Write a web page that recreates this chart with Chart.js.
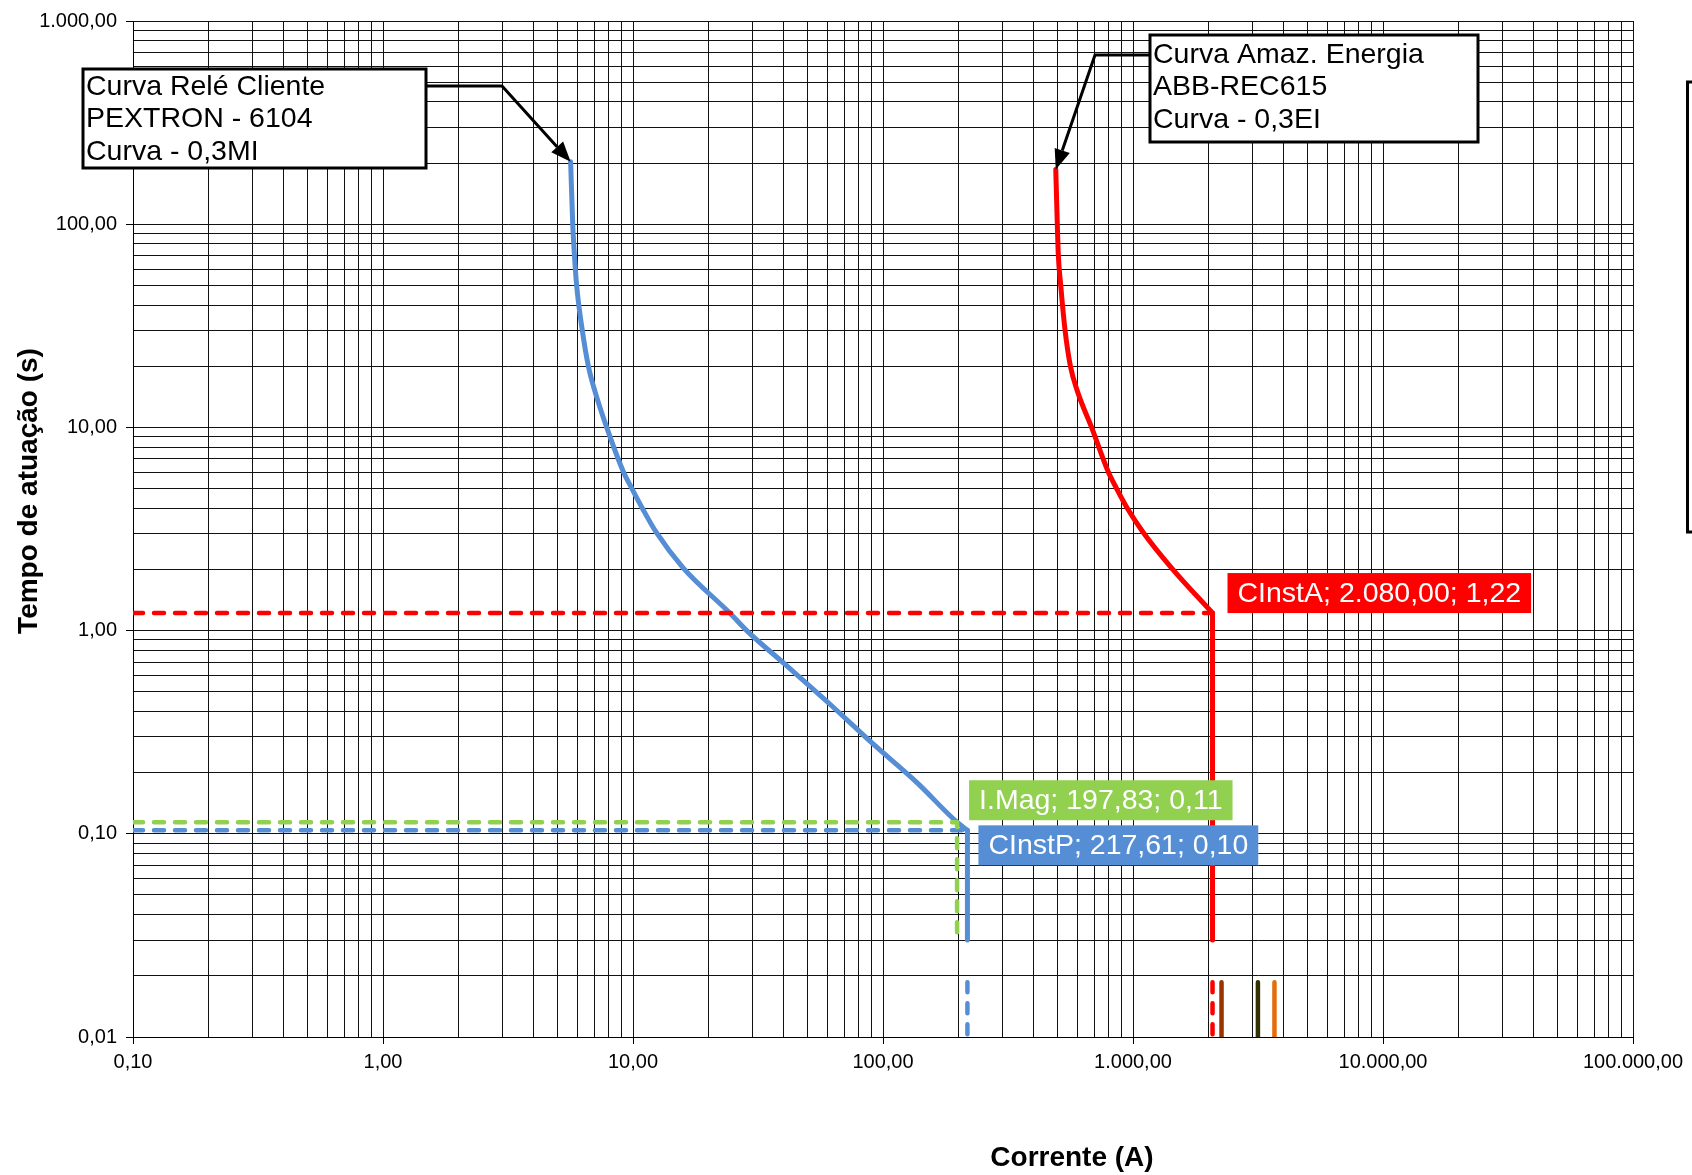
<!DOCTYPE html>
<html lang="pt-BR">
<head>
<meta charset="UTF-8">
<title>Coordenograma</title>
<script src="https://cdn.jsdelivr.net/npm/chart.js"></script>
<style>
  html, body { margin: 0; padding: 0; background: #fff; }
  #wrap { width: 1692px; height: 1175px; }
</style>
</head>
<body>
<div id="wrap"><canvas id="chart"></canvas></div>
<script>
// curva do rele do cliente (PEXTRON 6104, 0,3MI)
const relayI = [5.63, 5.74, 5.82, 5.95, 6.27, 6.63, 7.05, 7.85, 9.15, 9.9, 10.9, 12.4, 15.9, 24.4, 28.5, 40.6, 61.4, 91.5, 136.4, 197.83, 217.61];
const relayT = [203, 100, 72.8, 50, 30, 20, 15, 10, 6.05, 5.0, 4.0, 3.04, 2.03, 1.22, 1.0, 0.682, 0.434, 0.276, 0.179, 0.114, 0.104];

// curva da concessionaria (ABB REC615, 0,3EI)
const utilI = [491, 498, 502, 514, 535, 562, 600, 683, 796, 860, 949, 1099, 1428, 2080];
const utilT = [186, 100, 72.8, 50, 30, 20, 15, 10, 6.05, 5.0, 4.0, 3.04, 2.03, 1.22];

// trecho instantaneo vertical ate este tempo
const instEndT = 0.03;

// pontos notaveis
const markNames = ['CInstA', 'I.Mag', 'CInstP'];
const markI = [2080, 197.83, 217.61];
const markT = [1.22, 0.114, 0.104];

// marcas de curto no rodape
const faultI = [217.61, 2080, 2260, 3160, 3680];
const faultTop = 0.0186;
const faultBottom = 0.01;

const xDecades = [0.1, 1, 10, 100, 1000, 10000, 100000];
const xTickLabels = ['0,10', '1,00', '10,00', '100,00', '1.000,00', '10.000,00', '100.000,00'];
const yDecades = [0.01, 0.1, 1, 10, 100, 1000];
const yTickLabels = ['0,01', '0,10', '1,00', '10,00', '100,00', '1.000,00'];

const FONT = '"Liberation Sans", Arial, sans-serif';
Chart.defaults.font.family = FONT;

function fmtBR(v) {
    const parts = v.toFixed(2).split('.');
    return parts[0].replace(/\B(?=(\d{3})+(?!\d))/g, '.') + ',' + parts[1];
}

function logTicks(decades) {
    const out = [];
    for (let d = 0; d < decades.length - 1; d++) {
        for (let m = 1; m < 10; m++) out.push(+(decades[d] * m).toPrecision(6));
    }
    out.push(decades[decades.length - 1]);
    return out;
}

function decadeIndex(decades, v) {
    return decades.findIndex(d => Math.abs(d - v) / d < 1e-6);
}

function pts(xs, ys) {
    return xs.map((x, k) => ({ x: x, y: ys[k] }));
}

function line(xs, ys, color, extra) {
    return Object.assign({
        data: pts(xs, ys),
        borderColor: color,
        borderWidth: 5,
        pointRadius: 0,
        showLine: true,
        fill: false,
        tension: 0,
        borderCapStyle: 'round',
        borderJoinStyle: 'round'
    }, extra || {});
}

const dash = { borderDash: [10, 11], borderWidth: 4.5 };
const smooth = { cubicInterpolationMode: 'monotone', borderWidth: 5 };

const datasets = [
    line([faultI[1], faultI[1]], [faultTop, faultBottom], '#FF0000', dash),
    line([faultI[0], faultI[0]], [faultTop, faultBottom], '#558ED5', dash),
    line([faultI[2], faultI[2]], [faultTop, faultBottom], '#993300', { borderWidth: 4.5 }),
    line([faultI[3], faultI[3]], [faultTop, faultBottom], '#333300', { borderWidth: 4.5 }),
    line([faultI[4], faultI[4]], [faultTop, faultBottom], '#E46C0A', { borderWidth: 4.5 }),
    line([0.1, markI[0]], [markT[0], markT[0]], '#FF0000', dash),
    line([0.1, markI[1], markI[1]], [markT[1], markT[1], instEndT], '#92D050', dash),
    line([0.1, markI[2]], [markT[2], markT[2]], '#558ED5', dash),
    line(relayI, relayT, '#558ED5', smooth),
    line([relayI[relayI.length - 1], relayI[relayI.length - 1]], [relayT[relayT.length - 1], instEndT], '#558ED5'),
    line(utilI, utilT, '#FF0000', smooth),
    line([utilI[utilI.length - 1], utilI[utilI.length - 1]], [utilT[utilT.length - 1], instEndT], '#FF0000')
];

// caixas de texto com seta
const callouts = [
    { x: 83, y: 69, w: 343, h: 99, first: 18, side: 'right', elbowX: 502, elbowY: 86,
      target: [relayI[0], relayT[0]],
      lines: ['Curva Relé Cliente', 'PEXTRON - 6104', 'Curva - 0,3MI'] },
    { x: 1150, y: 35, w: 328, h: 107, first: 20, side: 'left', elbowX: 1095, elbowY: 55,
      target: [utilI[0], utilT[0]],
      lines: ['Curva Amaz. Energia', 'ABB-REC615', 'Curva - 0,3EI'] }
];

// rotulos de dados (deslocamento em px a partir do ponto)
const labelStyle = [
    { bg: '#FF0000', dx: 15, dy: -40 },
    { bg: '#92D050', dx: 12, dy: -42 },
    { bg: '#558ED5', dx: 11, dy: -5 }
];

const overlay = {
    id: 'overlay',
    afterDraw(chart) {
        const ctx = chart.ctx;
        const sx = chart.scales.x, sy = chart.scales.y;
        ctx.save();

        // rotulos
        ctx.font = '28.5px ' + FONT;
        ctx.textBaseline = 'middle';
        ctx.textAlign = 'center';
        markNames.forEach((name, k) => {
            const txt = name + '; ' + fmtBR(markI[k]) + '; ' + fmtBR(markT[k]);
            const px = sx.getPixelForValue(markI[k]);
            const py = sy.getPixelForValue(markT[k]);
            const st = labelStyle[k];
            const w = ctx.measureText(txt).width + 20;
            const h = 40;
            const bx = px + st.dx, by = py + st.dy;
            ctx.fillStyle = st.bg;
            ctx.fillRect(bx, by, w, h);
            ctx.fillStyle = '#FFFFFF';
            ctx.fillText(txt, bx + w / 2, by + h / 2 + 1);
        });

        // caixas com seta
        callouts.forEach(c => {
            const tx = sx.getPixelForValue(c.target[0]);
            const ty = sy.getPixelForValue(c.target[1]);
            const startX = c.side === 'right' ? c.x + c.w : c.x;
            ctx.strokeStyle = '#000';
            ctx.lineWidth = 3;
            ctx.lineJoin = 'miter';
            const ang = Math.atan2(ty - c.elbowY, tx - c.elbowX);
            const headLen = 20, headW = 8;
            const baseX = tx - Math.cos(ang) * headLen;
            const baseY = ty - Math.sin(ang) * headLen;
            ctx.beginPath();
            ctx.moveTo(startX, c.elbowY);
            ctx.lineTo(c.elbowX, c.elbowY);
            ctx.lineTo(baseX, baseY);
            ctx.stroke();
            ctx.fillStyle = '#000';
            ctx.beginPath();
            ctx.moveTo(tx, ty);
            ctx.lineTo(baseX + Math.sin(ang) * headW, baseY - Math.cos(ang) * headW);
            ctx.lineTo(baseX - Math.sin(ang) * headW, baseY + Math.cos(ang) * headW);
            ctx.closePath();
            ctx.fill();

            ctx.fillStyle = '#FFFFFF';
            ctx.fillRect(c.x, c.y, c.w, c.h);
            ctx.lineWidth = 3;
            ctx.strokeRect(c.x, c.y, c.w, c.h);
            ctx.fillStyle = '#000';
            ctx.font = '28.5px ' + FONT;
            ctx.textAlign = 'left';
            ctx.textBaseline = 'middle';
            c.lines.forEach((t, i) => ctx.fillText(t, c.x + 3, c.y + c.first + i * 32.5));
        });

        // legenda cortada na borda direita
        ctx.lineWidth = 3;
        ctx.strokeStyle = '#000';
        ctx.strokeRect(1687.5, 82, 40, 450);

        // titulos dos eixos
        ctx.fillStyle = '#000';
        ctx.font = 'bold 28px ' + FONT;
        ctx.textAlign = 'center';
        ctx.textBaseline = 'middle';
        ctx.fillText('Corrente (A)', 1072, 1158);
        ctx.translate(29, 491);
        ctx.rotate(-Math.PI / 2);
        ctx.fillText('Tempo de atuação (s)', 0, 0);
        ctx.restore();
    }
};

function axis(decades, labels, padding) {
    const all = logTicks(decades);
    return {
        type: 'logarithmic',
        min: decades[0],
        max: decades[decades.length - 1],
        afterBuildTicks(scale) {
            scale.ticks = all.map(v => ({ value: v, major: decadeIndex(decades, v) >= 0 }));
        },
        ticks: {
            autoSkip: false,
            maxRotation: 0,
            padding: padding,
            color: '#000',
            font: { size: 20 },
            callback(value) {
                const k = decadeIndex(decades, value);
                return k >= 0 ? labels[k] : '';
            }
        },
        grid: {
            color: '#111',
            lineWidth: 1,
            tickLength: 7,
            tickColor: ctx => (ctx.tick && decadeIndex(decades, ctx.tick.value) >= 0) ? '#000' : 'rgba(0,0,0,0)'
        },
        border: { display: true, color: '#000', width: 1 }
    };
}

const xAxis = axis(xDecades, xTickLabels, 6);
xAxis.afterFit = scale => { scale.height = 138; };
const yAxis = axis(yDecades, yTickLabels, 9);
yAxis.afterFit = scale => { scale.width = 133; };

new Chart(document.getElementById('chart'), {
    type: 'scatter',
    data: { datasets: datasets },
    options: {
        responsive: true,
        maintainAspectRatio: false,
        animation: false,
        layout: { padding: { left: 0, top: 18, right: 59, bottom: 0 } },
        plugins: {
            legend: { display: false },
            tooltip: { enabled: false }
        },
        scales: { x: xAxis, y: yAxis }
    },
    plugins: [overlay]
});
</script>
</body>
</html>
